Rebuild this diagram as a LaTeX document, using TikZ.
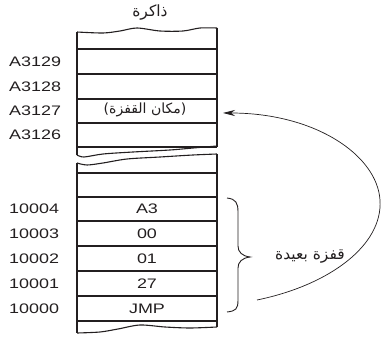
\documentclass[tikz,border=0pt]{standalone}
\usepackage{fontspec}
\setmainfont{Liberation Sans}[FakeStretch=1.3]
\newfontfamily\arabicfont[Script=Arabic]{DejaVu Sans}
\TeXXeTstate=1
\usetikzlibrary{arrows.meta}
\definecolor{ink}{HTML}{231F20}
\tikzset{
  boxline/.style={draw=ink, line width=1.1pt},
  sepline/.style={draw=ink, line width=1.1pt},
  addr/.style={anchor=west, inner sep=0pt, text=ink, font=\fontsize{13.8}{16}\selectfont},
  cell/.style={inner sep=0pt, text=ink, font=\fontsize{13.8}{16}\selectfont},
  artext/.style={inner sep=0pt, text=ink, font=\arabicfont\fontsize{15.5}{18}\selectfont},
  jumparrow/.style={draw=ink, line width=0.7pt, -{Stealth[length=12pt,width=6pt]}},
}
\begin{document}
\begin{tikzpicture}[x=1pt,y=-1pt]
\useasboundingbox (0,0) rectangle (381,339);
% title
\node[artext] (title) at (150,13) {\beginR ذاكرة\endR};
% upper section
\draw[boxline] (77,155) -- (77,32);
\draw[boxline] (217,147) -- (217,28);
\draw[boxline] plot[smooth] coordinates {(77,32) (103,33) (120,31) (137,28) (160,31) (183,31) (200,28) (217,28)};
\foreach \yy in {49,74,99,123,147} \draw[sepline] (77,\yy) -- (217,\yy);
\draw[boxline] plot[smooth] coordinates {(77,155) (84,157) (103,154) (133,152) (170,150) (193,148) (217,146)};
% lower section
\draw[boxline] (77,163) -- (77,333);
\draw[boxline] (217,154) -- (217,327);
\draw[boxline] plot[smooth] coordinates {(77,163) (87,165) (103,163) (127,159) (160,157) (193,155) (217,154)};
\foreach \yy in {173,197,221,246,271,296,321} \draw[sepline] (77,\yy) -- (217,\yy);
\draw[boxline] plot[smooth] coordinates {(77,333) (100,332) (118,329) (140,325) (165,327) (190,328) (217,327)};
% address labels
\node[addr] (a9) at (9,62) {A3129};
\node[addr] (a8) at (9,86.5) {A3128};
\node[addr] (a7) at (9,111) {A3127};
\node[addr] (a6) at (9,135) {A3126};
\node[addr] (b4) at (9,209) {10004};
\node[addr] (b3) at (9,233.5) {10003};
\node[addr] (b2) at (9,258.5) {10002};
\node[addr] (b1) at (9,283.5) {10001};
\node[addr] (b0) at (9,308.5) {10000};
% cell contents
\node[artext, font=\arabicfont\fontsize{14}{16}\selectfont] (loc) at (145,110) {\beginR(مكان القفزة)\endR};
\node[cell] (c4) at (147,209) {A3};
\node[cell] (c3) at (147,233.5) {00};
\node[cell] (c2) at (147,258.5) {01};
\node[cell] (c1) at (147,283.5) {27};
\node[cell] (c0) at (147,308.5) {JMP};
% brace
\draw[boxline, line width=0.9pt] (227,198) .. controls (236,199) and (238,203) .. (238,212)
  -- (238,246) .. controls (238,252) and (242,256) .. (250,257)
  .. controls (242,258) and (238,262) .. (238,268)
  -- (238,300) .. controls (238,309) and (236,311) .. (227,312);
\node[artext] (far) at (310,256) {\beginR قفزة بعيدة\endR};
% jump arrow
\coordinate (cstart) at (257,300);
\coordinate (ctarget) at (223,113);
\draw[jumparrow] (cstart) .. controls (330,285) and (383,245) .. (380,200)
  .. controls (377,155) and (315,113) .. (ctarget);
\end{tikzpicture}
\end{document}
